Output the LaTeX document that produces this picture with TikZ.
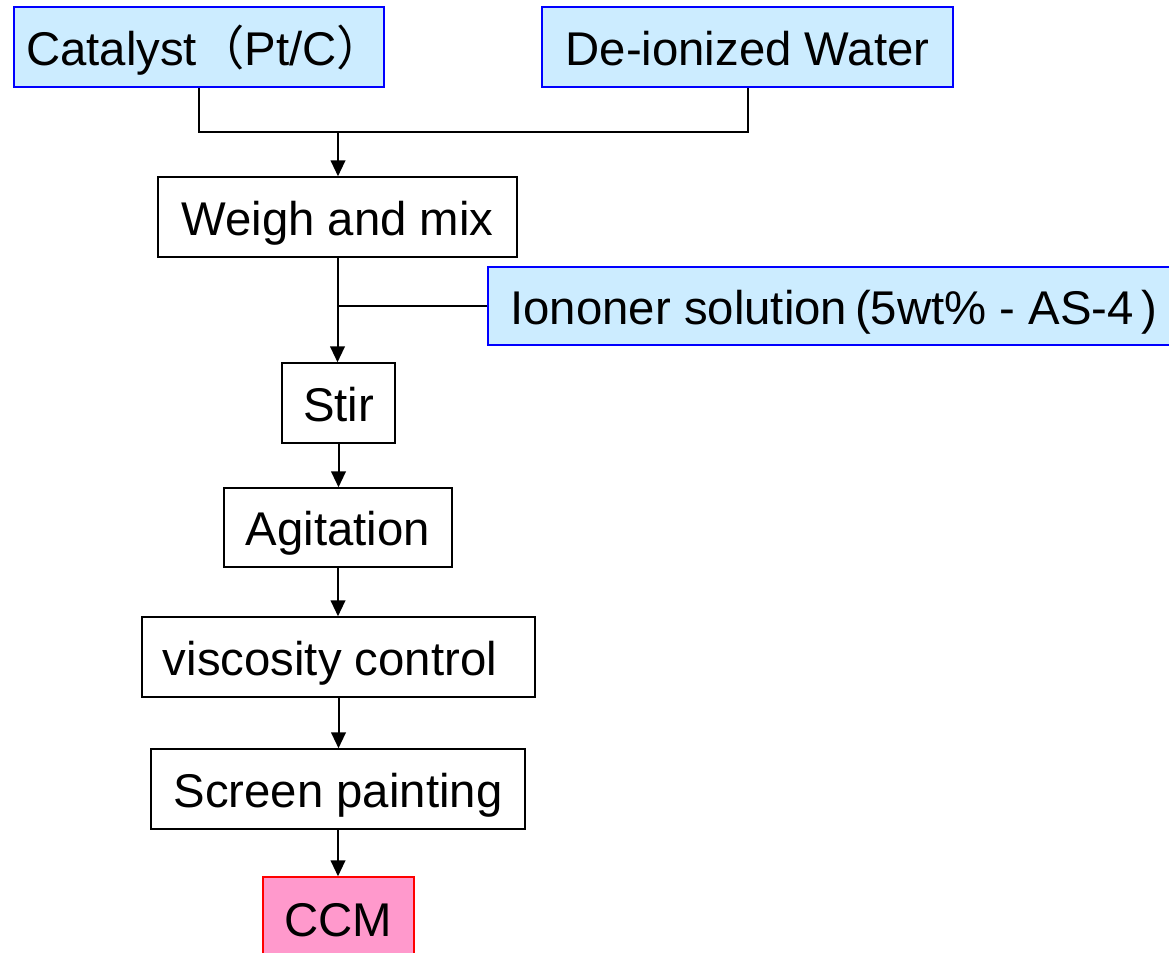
\documentclass[tikz,border=0pt]{standalone}
\usepackage{fontspec}
\usepackage{graphicx}
\setmainfont{Liberation Sans}
\newfontfamily\cjkfont{Noto Sans CJK SC}
\usetikzlibrary{arrows.meta}
\definecolor{lblue}{RGB}{204,236,255}
\definecolor{bblue}{RGB}{0,0,255}
\definecolor{lpink}{RGB}{255,153,204}
\tikzset{
 box/.style={draw=black, line width=1.1pt, inner sep=0pt, font=\fontsize{35.5}{40}\selectfont,
   text height=27.5pt, text depth=0pt},
 inbox/.style={box, draw=bblue, fill=lblue},
 endbox/.style={box, draw=red, fill=lpink},
 flow/.style={line width=1.5pt, -{Triangle[width=11pt,length=12pt]}},
 link/.style={line width=1.5pt},
 dim/.style 2 args={minimum width=#1*0.75pt, minimum height=#2*0.75pt}
}
\begin{document}
\begin{tikzpicture}[x=0.75pt,y=-0.75pt]
\useasboundingbox (0,0) rectangle (1169,952);
\clip (0,0) rectangle (1169,952);
\node[inbox, dim={370}{80}] (cat) at (199,47) {\kern9pt Catalyst{\cjkfont（}Pt/C{\cjkfont）}};
\node[inbox, dim={411}{80}] (water) at (747.5,47) {De-ionized Water};
\node[box, dim={359}{80}] (weigh) at (337.5,217) {Weigh and mix};
\node[inbox, dim={684}{78}] (ion) at (830,306) {\kern6pt Iononer solution\,(5wt\% - AS-4\,)};
\node[box, dim={113}{80}] (stir) at (338.5,403) {Stir};
\node[box, dim={228}{79}] (agit) at (338,527.5) {Agitation};
\node[box, dim={393}{80}] (visc) at (338.5,657) {viscosity control\kern12.75pt};
\node[box, dim={374}{80}] (screen) at (338,789) {Screen painting};
\node[endbox, dim={151}{83}] (ccm) at (338.5,918.5) {CCM};
\coordinate (j1) at (338,132);
\draw[link] (cat.south) |- (j1) -| (water.south);
\draw[flow] (j1) -- (j1 |- weigh.north);
\draw[flow] (weigh.south) -- (weigh.south |- stir.north);
\draw[link] (ion.west) -- (ion.west -| weigh.south);
\draw[flow] (stir.south) -- (stir.south |- agit.north);
\draw[flow] (agit.south) -- (agit.south |- visc.north);
\draw[flow] (visc.south) -- (visc.south |- screen.north);
\draw[flow] (screen.south) -- (screen.south |- ccm.north);
\end{tikzpicture}
\end{document}
